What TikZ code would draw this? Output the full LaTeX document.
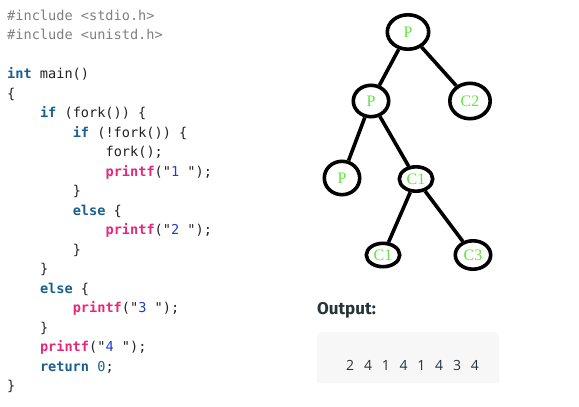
\documentclass[tikz,border=0pt]{standalone}
\usepackage{fontspec}
\setmainfont{Liberation Serif}
\setmonofont{DejaVu Sans Mono}
\newfontfamily\headfont{Fira Sans}
\newfontfamily\outfont{Open Sans}
\usetikzlibrary{shapes.geometric}
\definecolor{kwcol}{HTML}{19608F}
\definecolor{fncol}{HTML}{E6287A}
\definecolor{strcol}{HTML}{1E3CD2}
\definecolor{inccol}{HTML}{808080}
\definecolor{txtcol}{HTML}{222222}
\definecolor{treegreen}{RGB}{96,230,60}
\definecolor{outcol}{HTML}{273239}
\definecolor{boxcol}{HTML}{F7F7F7}
\newcommand{\kw}[1]{{\bfseries\color{kwcol}#1}}
\newcommand{\fn}[1]{{\bfseries\color{fncol}#1}}
\newcommand{\strg}[1]{{\color{strcol}#1}}
\tikzset{
  codeline/.style={anchor=base west, inner sep=0pt, font=\ttfamily\fontsize{13.6}{16}\selectfont, text=txtcol},
  tnode/.style={ellipse, draw=black, line width=3.6pt, inner sep=0pt, text=treegreen, font=\fontsize{16}{18}\selectfont},
  tedge/.style={draw=black, line width=3.6pt},
}
\begin{document}
\begin{tikzpicture}[x=1pt,y=-1pt]
\useasboundingbox (0,0) rectangle (579,407);
\fill[white] (0,0) rectangle (579,407);
% code
\node[codeline] (l0) at (7,20) {{\color{inccol}\#include <stdio.h>}};
\node[codeline] (l1) at (7,39.5) {{\color{inccol}\#include <unistd.h>}};
\node[codeline] (l3) at (7,78.5) {\kw{int} main()};
\node[codeline] (l4) at (7,98) {\{};
\node[codeline] (l5) at (39.8,117.5) {\kw{if} (fork()) \{};
\node[codeline] (l6) at (72.6,137) {\kw{if} (!fork()) \{};
\node[codeline] (l7) at (105.4,156.5) {fork();};
\node[codeline] (l8) at (105.4,176) {\fn{printf}("\strg{1 }");};
\node[codeline] (l9) at (72.6,195.5) {\}};
\node[codeline] (l10) at (72.6,215) {\kw{else} \{};
\node[codeline] (l11) at (105.4,234.5) {\fn{printf}("\strg{2 }");};
\node[codeline] (l12) at (72.6,254) {\}};
\node[codeline] (l13) at (39.8,273.5) {\}};
\node[codeline] (l14) at (39.8,293) {\kw{else} \{};
\node[codeline] (l15) at (72.6,312.5) {\fn{printf}("\strg{3 }");};
\node[codeline] (l16) at (39.8,332) {\}};
\node[codeline] (l17) at (39.8,351.5) {\fn{printf}("\strg{4 }");};
\node[codeline] (l18) at (39.8,371) {\kw{return} {\color{kwcol}0};};
\node[codeline] (l19) at (7,390.5) {\}};
% tree
\node[tnode, minimum width=41.4pt, minimum height=34.4pt] (t0) at (408,32) {P};
\node[tnode, minimum width=35.4pt, minimum height=31.4pt] (t1) at (371,101) {P};
\node[tnode, minimum width=40.4pt, minimum height=35.4pt] (t2) at (470,101) {C2};
\node[tnode, minimum width=35.4pt, minimum height=33.4pt] (t3) at (342,178) {P};
\node[tnode, minimum width=33.4pt, minimum height=24.4pt] (t4) at (416,179) {C1};
\node[tnode, minimum width=33.4pt, minimum height=23.4pt] (t5) at (383,255) {C1};
\node[tnode, minimum width=35.4pt, minimum height=28.4pt] (t6) at (473,255) {C3};
\draw[tedge] (t0) -- (t1);
\draw[tedge] (t0) -- (t2);
\draw[tedge] (t1) -- (t3);
\draw[tedge] (t1) -- (t4);
\draw[tedge] (t4) -- (t5);
\draw[tedge] (t4) -- (t6);
% output
\node[anchor=base west, inner sep=0pt, text=outcol, font=\headfont\bfseries\fontsize{17}{20}\selectfont] (outlbl) at (317,314.5) {Output:};
\path[fill=boxcol, rounded corners=6pt] (317,383) -- (317,332) -- (499,332) [sharp corners] -- (499,383) -- cycle;
\node[anchor=base west, inner sep=0pt, text=outcol, font=\outfont\fontsize{14}{16}\selectfont] (outtxt) at (346,370) {\spaceskip=9.8pt\relax 2 4 1 4 1 4 3 4};
\end{tikzpicture}
\end{document}
